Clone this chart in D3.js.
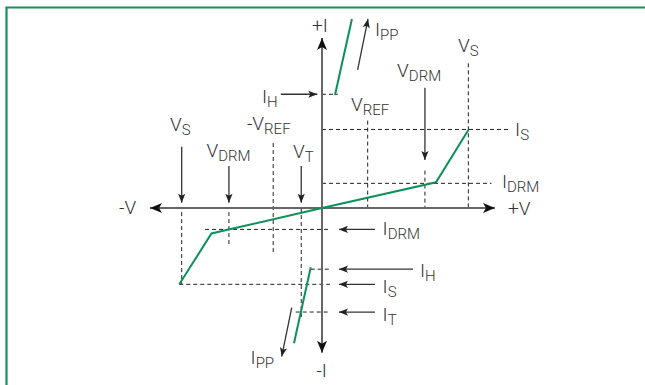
<!DOCTYPE html>
<html><head><meta charset="utf-8">
<script src="https://cdn.jsdelivr.net/npm/d3@7"></script>
<style>
html,body{margin:0;padding:0;background:#fff;}
svg{display:block;}
text{font-family:Roboto,"Liberation Sans",sans-serif;font-weight:300;fill:#333;}
</style></head>
<body><svg id="c" width="645" height="385"></svg>
<script>
// ---- data (V in arbitrary units on x, I in arbitrary units on y) ----
const vAxisExtent = [-99.4, 100];
const iAxisExtent = [-85.1, 100];
const curvePos = [[0,0],[65.9,15.1],[84.6,45.9]];
const curveNeg = [[0,0],[-63.9,-15],[-82.5,-44.9]];
const onStatePos = [[7.5,66.5],[17.3,111.2]];
const onStateNeg = [[-6.5,-34.9],[-16.2,-79.6]];
const dashedLines = [
  [[0,46.2],[107.5,46.2]],      // IS +
  [[0,14.5],[98,14.5]],         // IDRM +
  [[26.4,51.4],[26.4,0]],       // VREF +
  [[84.6,85.1],[84.6,0]],       // VS +
  [[59.5,22],[59.5,0]],         // VDRM +
  [[0,66.9],[9.2,66.9]],        // IH +
  [[-81.1,-2.4],[-81.1,-44.9]], // VS -
  [[-53.8,-2.4],[-53.8,-21.8]], // VDRM -
  [[-28.2,38.2],[-28.2,-27.6]], // -VREF
  [[-12,0],[-12,-66]],          // VT
  [[-67.6,-12.6],[4.6,-12.6]],  // IDRM -
  [[-6.5,-36],[4.6,-36]],       // IH -
  [[-82.5,-44.9],[4.6,-44.9]],  // IS -
  [[-15.2,-61.2],[4.6,-61.2]]   // IT -
];
const arrows = [
  [[-23.8,66.9],[-2.7,66.9]],   // IH +
  [[59.5,70.8],[59.5,28.2]],    // VDRM +
  [[20.6,81.2],[26.6,111.2]],   // IPP +
  [[-81.1,36.1],[-81.1,3.1]],   // VS -
  [[-53.8,24.7],[-53.8,3.1]],   // VDRM -
  [[-12,24.7],[-12,3.1]],       // VT
  [[30.6,-12.6],[9.8,-12.6]],   // IDRM -
  [[52.6,-36],[9.8,-36]],       // IH -
  [[30.6,-44.9],[9.8,-44.9]],   // IS -
  [[30.6,-61.2],[9.8,-61.2]],   // IT -
  [[-17.5,-58.6],[-23.3,-87.4]] // IPP -
];
const labelMain = ["+I","-I","-V","+V","I","V","V","I","V","-V","V","V","V","I","I","I","I","I","I","I"];
const labelSub  = ["","","","","PP","S","DRM","H","REF","REF","S","DRM","T","S","DRM","DRM","H","S","T","PP"];
const labelPos  = [[-1.2,103.5],[-0.2,-99.4],[-117.3,-3.5],[107.5,-4.1],[30.6,101.2],[78.6,91.8],[43.4,77.1],
  [-34.7,61.8],[16.8,57.1],[-43.4,45.9],[-87.9,45.3],[-66.8,30],[-16.8,29.4],[111.6,42.4],[104,11.8],
  [35,-15.9],[56.6,-40.6],[35,-50],[35,-66.5],[-41.3,-91.8]];
const labelAnchor = ["middle","middle","start","start","start","start","start","start","start","start","start","start","start","start","start","start","start","start","start","start"];

// ---- drawing ----
const svg = d3.select("#c");
const x = d3.scaleLinear().domain([-100,100]).range([149,495]);
const y = d3.scaleLinear().domain([-100,100]).range([378,38]);
const line = d3.line().x(d=>x(d[0])).y(d=>y(d[1]));

const defs = svg.append("defs");
defs.append("marker").attr("id","ah").attr("markerUnits","userSpaceOnUse")
  .attr("viewBox","-10 -5 11 10").attr("refX",0).attr("refY",0)
  .attr("markerWidth",11).attr("markerHeight",10).attr("orient","auto")
  .append("path").attr("d","M0,0 L-9,-3.6 L-7,0 L-9,3.6 Z").attr("fill","#222");
defs.append("marker").attr("id","axh").attr("markerUnits","userSpaceOnUse")
  .attr("viewBox","-13 -6 14 12").attr("refX",0).attr("refY",0)
  .attr("markerWidth",14).attr("markerHeight",12).attr("orient","auto")
  .append("path").attr("d","M0,0 L-12,-5 L-9,0 L-12,5 Z").attr("fill","#111");

// frame
svg.append("path").attr("d","M6.5,385 L6.5,7.5 L645,7.5")
  .attr("fill","none").attr("stroke","#16925c").attr("stroke-width",2.2);

// dashed guides
svg.append("g").selectAll("path").data(dashedLines).join("path")
  .attr("d",line).attr("fill","none").attr("stroke","#222")
  .attr("stroke-width",1).attr("stroke-dasharray","4,3");

// axes
const axG = svg.append("g").attr("stroke","#666").attr("stroke-width",2).attr("fill","none");
axG.append("path").attr("d",line([[0,0],[vAxisExtent[0],0]])).attr("marker-end","url(#axh)");
axG.append("path").attr("d",line([[0,0],[vAxisExtent[1],0]])).attr("marker-end","url(#axh)");
axG.append("path").attr("d",line([[0,0],[0,iAxisExtent[1]]])).attr("marker-end","url(#axh)");
axG.append("path").attr("d",line([[0,0],[0,iAxisExtent[0]]])).attr("marker-end","url(#axh)");

// arrows
svg.append("g").selectAll("path").data(arrows).join("path")
  .attr("d",line).attr("fill","none").attr("stroke","#333")
  .attr("stroke-width",1.3).attr("marker-end","url(#ah)");

// green characteristic
const gG = svg.append("g").attr("fill","none").attr("stroke","#0c9158").attr("stroke-width",2);
[curvePos,curveNeg,onStatePos,onStateNeg].forEach(d=>gG.append("path").attr("d",line(d)));

// labels
const lg = svg.append("g");
labelMain.forEach((m,i)=>{
  const t = lg.append("text").attr("x",x(labelPos[i][0])).attr("y",y(labelPos[i][1]))
    .attr("text-anchor",labelAnchor[i]).attr("font-size",19);
  t.append("tspan").text(m);
  if(labelSub[i]) t.append("tspan").attr("font-size",15).attr("dy",4).text(labelSub[i]);
});
</script></body></html>
